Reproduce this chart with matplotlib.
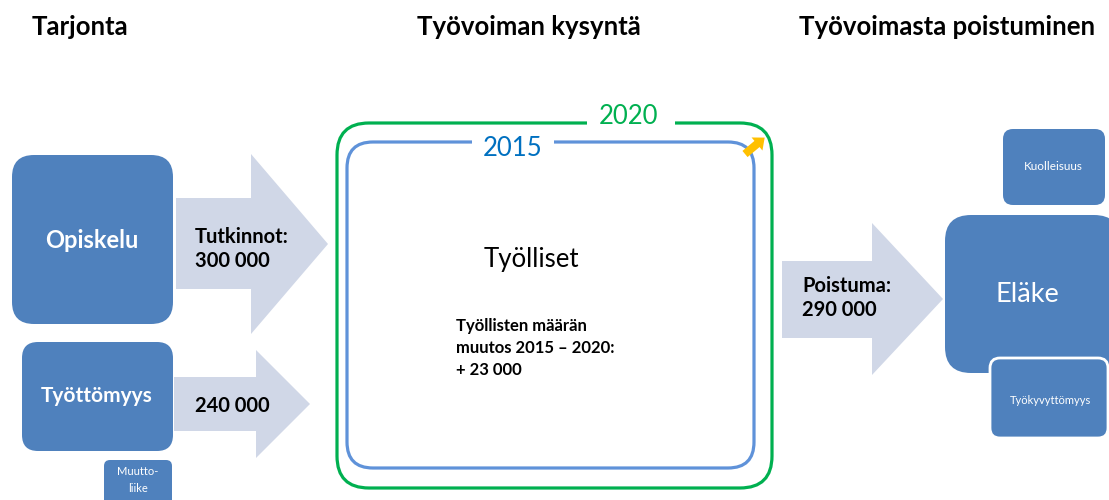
import matplotlib
matplotlib.use("Agg")
import matplotlib.pyplot as plt
from matplotlib.patches import FancyBboxPatch, Polygon, Rectangle, FancyArrow

plt.rcParams['font.family'] = ['Lato', 'DejaVu Sans']

# ---- content ----
headers = ["Tarjonta", "Työvoiman kysyntä", "Työvoimasta poistuminen"]
years = [2015, 2020]
inflow_labels = ["Tutkinnot:", ""]
inflow_values = [300000, 240000]
outflow_label = "Poistuma:"
outflow_value = 290000
employment_change = 23000
source_boxes = ["Opiskelu", "Työttömyys", "Muutto-\nliike"]
exit_boxes = ["Eläke", "Kuolleisuus", "Työkyvyttömyys"]
centre_label = "Työlliset"

def fmt(v):
    return f"{v:,}".replace(",", " ")

BOX = "#4F81BD"
ARROW = "#D0D7E7"
GREEN = "#00B050"
BLUE_LINE = "#5F92D9"
BLUE_TXT = "#0070C0"

fig = plt.figure(figsize=(11.09, 5.0), dpi=100)
ax = fig.add_axes([0, 0, 1, 1])
ax.set_xlim(0, 1109)
ax.set_ylim(500, 0)
ax.axis("off")

def rbox(x0, y0, x1, y1, r, fc, ec="none", lw=0, z=2):
    p = FancyBboxPatch((x0, y0), x1 - x0, y1 - y0,
                       boxstyle=f"round,pad=0,rounding_size={r}",
                       fc=fc, ec=ec, lw=lw, zorder=z)
    ax.add_patch(p)

def block_arrow(x0, sy0, sy1, hx, hy0, hy1, tip):
    ty = (hy0 + hy1) / 2
    pts = [(x0, sy0), (hx, sy0), (hx, hy0), (tip, ty), (hx, hy1), (hx, sy1), (x0, sy1)]
    ax.add_patch(Polygon(pts, closed=True, fc=ARROW, ec="none", zorder=1))

# headers
ax.text(32, 27, headers[0], fontsize=18.5, fontweight="bold", va="center", ha="left")
ax.text(529, 27, headers[1], fontsize=18.5, fontweight="bold", va="center", ha="center")
ax.text(1095, 27, headers[2], fontsize=18.5, fontweight="bold", va="center", ha="right")

# left source boxes & arrows
rbox(12, 155, 173, 324, 22, BOX)
ax.text(92, 240, source_boxes[0], fontsize=17, fontweight="bold", color="white", ha="center", va="center", zorder=3)
block_arrow(176, 198, 289, 251, 154, 334, 328)
ax.text(195, 249, f"{inflow_labels[0]}\n{fmt(inflow_values[0])}", fontsize=14.5, fontweight="bold",
        ha="left", va="center", linespacing=1.3, zorder=3)

rbox(22, 342, 173, 451, 16, BOX)
ax.text(97, 396, source_boxes[1], fontsize=15, fontweight="bold", color="white", ha="center", va="center", zorder=3)
block_arrow(174, 377, 431, 256, 350, 458, 310)
ax.text(195, 406, fmt(inflow_values[1]), fontsize=14.5, fontweight="bold", ha="left", va="center", zorder=3)

rbox(104, 460, 172, 515, 6, BOX)
ax.text(138, 480, source_boxes[2], fontsize=8, color="white", ha="center", va="center",
        linespacing=1.7, zorder=3)

# centre boxes
rbox(337, 123, 772, 488, 32, "none", ec=GREEN, lw=2.3, z=2)
rbox(347, 142, 754, 468, 26, "none", ec=BLUE_LINE, lw=2.3, z=2)
ax.add_patch(Rectangle((587, 115), 88, 16, fc="white", ec="none", zorder=3))
ax.add_patch(Rectangle((472, 134), 82, 16, fc="white", ec="none", zorder=3))
ax.text(629, 117, str(years[1]), fontsize=18.5, color=GREEN, ha="center", va="center", zorder=4)
ax.text(513, 149, str(years[0]), fontsize=18.5, color=BLUE_TXT, ha="center", va="center", zorder=4)
ax.add_patch(FancyArrow(745, 154, 12, -10, width=8, head_width=17, head_length=10,
                        length_includes_head=False, fc="#FFC000", ec="none", zorder=5))

ax.text(531, 259, centre_label, fontsize=18.5, ha="center", va="center", zorder=3)
ax.text(456, 348, f"Työllisten määrän\nmuutos {years[0]} – {years[1]}:\n+ {fmt(employment_change)}",
        fontsize=12, fontweight="bold", ha="left", va="center", linespacing=1.45, zorder=3)

# right side
block_arrow(782, 261, 338, 872, 223, 375, 943)
ax.text(802, 298, f"{outflow_label}\n{fmt(outflow_value)}", fontsize=14.5, fontweight="bold",
        ha="left", va="center", linespacing=1.3, zorder=3)

rbox(945, 215, 1120, 373, 26, BOX)
ax.text(1027, 294, exit_boxes[0], fontsize=19.5, color="white", ha="center", va="center", zorder=3)
rbox(1003, 129, 1105, 205, 10, BOX)
ax.text(1053, 167, exit_boxes[1], fontsize=8.5, color="white", ha="center", va="center", zorder=3)
rbox(990, 358, 1108, 438, 10, BOX, ec="white", lw=2, z=4)
ax.text(1050, 401, exit_boxes[2], fontsize=8, color="white", ha="center", va="center", zorder=5)

fig.savefig("out.png", dpi=100)
